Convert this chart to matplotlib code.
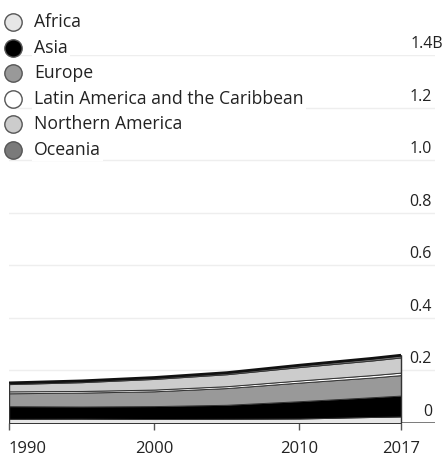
import numpy as np
import matplotlib
matplotlib.use('Agg')
import matplotlib.pyplot as plt
from matplotlib.lines import Line2D
from matplotlib.transforms import blended_transform_factory

plt.rcParams['font.family'] = ['Open Sans', 'DejaVu Sans']

# International migrants by region of destination (billions)
years = [1990, 1995, 2000, 2005, 2010, 2015, 2017]
regions = ['Africa', 'Asia', 'Europe', 'Latin America and the Caribbean',
           'Northern America', 'Oceania']
africa = [0.0157, 0.0164, 0.0151, 0.0159, 0.0170, 0.0229, 0.0247]
asia = [0.0482, 0.0464, 0.0492, 0.0534, 0.0659, 0.0751, 0.0796]
europe = [0.0492, 0.0529, 0.0563, 0.0636, 0.0707, 0.0750, 0.0779]
latam = [0.0072, 0.0062, 0.0066, 0.0072, 0.0082, 0.0092, 0.0095]
n_america = [0.0276, 0.0333, 0.0404, 0.0454, 0.0509, 0.0556, 0.0577]
oceania = [0.0047, 0.0050, 0.0054, 0.0060, 0.0071, 0.0081, 0.0084]
colors = ['#e6e6e6', '#000000', '#999999', '#ffffff', '#cccccc', '#7a7a7a']

y_ticks = [0, 0.2, 0.4, 0.6, 0.8, 1.0, 1.2, 1.4]
y_labels = ['0', '0.2', '0.4', '0.6', '0.8', '1.0', '1.2', '1.4B']
x_ticks = [1990, 2000, 2010, 2017]

W, H = 445, 457
fig = plt.figure(figsize=(W / 100, H / 100), dpi=100)
ax = fig.add_axes([9 / W, 1 - 423 / H, 426 / W, 368 / H])
ax.set_xlim(1990, 1990 + 426 / 14.52)
ax.set_ylim(0, 1.4)

for s in ax.spines.values():
    s.set_visible(False)
ax.set_yticks(y_ticks)
ax.yaxis.grid(True, color='#eeeeee', lw=1.0)
ax.tick_params(axis='y', left=False, labelleft=False)
ax.set_axisbelow(True)
ax.axhline(0, color='#666666', lw=1.2, zorder=1)

stack = [africa, asia, europe, latam, n_america, oceania]
ax.stackplot(years, *stack, colors=colors, edgecolor='#333333', lw=0.7, zorder=2)
total = np.sum(stack, axis=0)
ax.plot(years, total, color='#111111', lw=2.0, zorder=3, solid_capstyle='butt')
ax.vlines([years[0], years[-1]], 0, [total[0], total[-1]], color='#333333', lw=1.0, zorder=3)

# x ticks
ax.set_xticks(x_ticks)
ax.set_xticklabels([str(x) for x in x_ticks])
ax.tick_params(axis='x', length=5, width=1, color='#555555', pad=8,
               labelsize=12, labelcolor='#222222')
ax.get_xticklabels()[0].set_horizontalalignment('left')

# y labels, right aligned above gridlines
tr = blended_transform_factory(ax.transAxes, ax.transData)
off = 11 / 52.6 * 0.2
for v, lab in zip(y_ticks, y_labels):
    x = (443 - 9) / 426 if lab.endswith('B') else (432 - 9) / 426
    ax.text(x, v + off, lab, transform=tr, ha='right', va='center',
            fontsize=11.5, color='#222222')

# legend
rows = [22, 48, 73, 99, 124, 150]
for name, c, yp in zip(regions, colors, rows):
    fig.add_artist(Line2D([13 / W], [1 - yp / H], marker='o', markersize=12.5,
                          markerfacecolor=c, markeredgecolor='#555555',
                          markeredgewidth=1.0, transform=fig.transFigure, zorder=5))
    fig.text(34 / W, 1 - yp / H, name, ha='left', va='center', fontsize=12.7,
             color='#222222', zorder=5,
             bbox=dict(facecolor='white', edgecolor='none', pad=1.5))

fig.savefig('out.png', dpi=100)
